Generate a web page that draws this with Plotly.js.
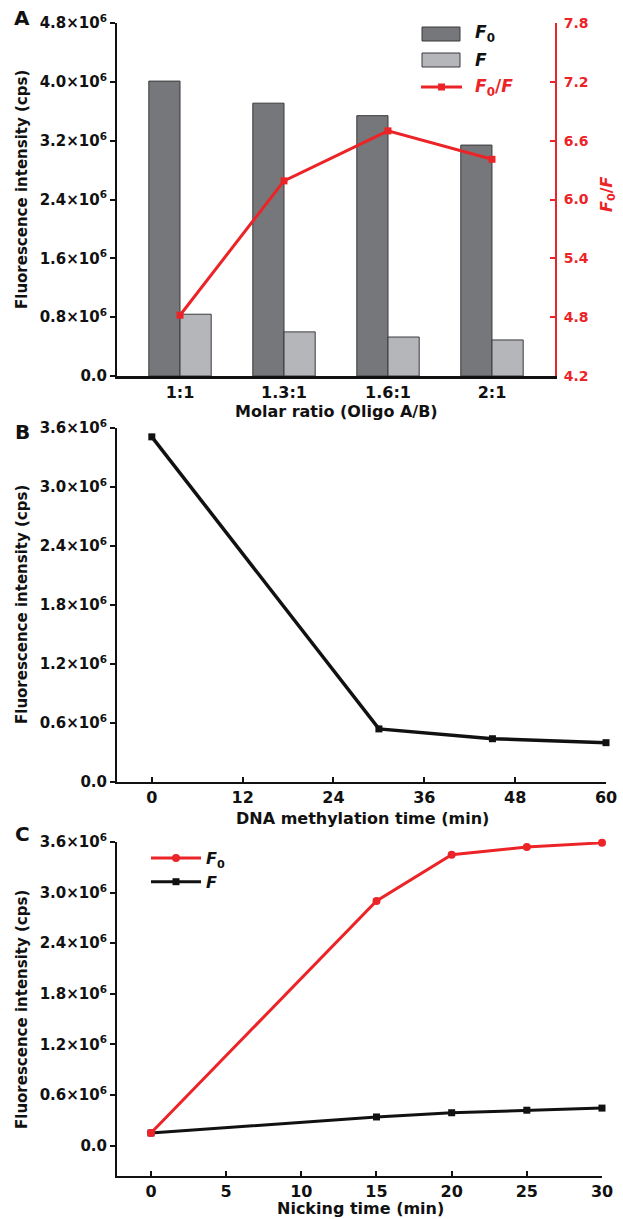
<!DOCTYPE html>
<html>
<head>
<meta charset="utf-8">
<script src="https://cdn.plot.ly/plotly-3.0.1.min.js"></script>
<style>html,body{margin:0;padding:0;background:#fff;}#chart{width:623px;height:1219px;}</style>
</head>
<body>
<div id="chart"></div>
<script>
// ---- data ----
const ratios = ['1:1', '1.3:1', '1.6:1', '2:1'];
const f0A = [4.01e6, 3.71e6, 3.54e6, 3.14e6];
const fA = [0.84e6, 0.60e6, 0.53e6, 0.49e6];
const ratioA = [4.82, 6.19, 6.70, 6.41];

const timeB = [0, 30, 45, 60];
const fB = [3.51e6, 0.54e6, 0.44e6, 0.40e6];

const timeC = [0, 15, 20, 25, 30];
const f0C = [0.15e6, 2.90e6, 3.45e6, 3.54e6, 3.59e6];
const fC = [0.15e6, 0.34e6, 0.39e6, 0.42e6, 0.445e6];

const yTicksA = [0, 0.8e6, 1.6e6, 2.4e6, 3.2e6, 4.0e6, 4.8e6];
const yTextA = ['0.0', '0.8×10<sup>6</sup>', '1.6×10<sup>6</sup>', '2.4×10<sup>6</sup>', '3.2×10<sup>6</sup>', '4.0×10<sup>6</sup>', '4.8×10<sup>6</sup>'];
const y2TicksA = [4.2, 4.8, 5.4, 6.0, 6.6, 7.2, 7.8];
const y2TextA = ['4.2', '4.8', '5.4', '6.0', '6.6', '7.2', '7.8'];
const yTicksBC = [0, 0.6e6, 1.2e6, 1.8e6, 2.4e6, 3.0e6, 3.6e6];
const yTextBC = ['0.0', '0.6×10<sup>6</sup>', '1.2×10<sup>6</sup>', '1.8×10<sup>6</sup>', '2.4×10<sup>6</sup>', '3.0×10<sup>6</sup>', '3.6×10<sup>6</sup>'];
const xTicksB = [0, 12, 24, 36, 48, 60];
const xTicksC = [0, 5, 10, 15, 20, 25, 30];

// ---- styling ----
const W = 623, H = 1219;
const RED = '#ec2327';
const DARK = '#76777b', LIGHT = '#b4b6ba', EDGE = '#3b3b3d';
const FONT = 'DejaVu Sans, Liberation Sans, Arial, sans-serif';
const tickFont = {family: FONT, size: 15, color: '#111', weight: 'bold'};
const xTickFont = {family: FONT, size: 16, color: '#111', weight: 'bold'};
const px = v => v / W;
const py = v => 1 - v / H;

const traces = [
  {type: 'bar', x: ratios, y: f0A, name: 'F0', xaxis: 'x', yaxis: 'y', showlegend: false,
   marker: {color: DARK, line: {color: EDGE, width: 1}}},
  {type: 'bar', x: ratios, y: fA, name: 'F', xaxis: 'x', yaxis: 'y', showlegend: false,
   marker: {color: LIGHT, line: {color: EDGE, width: 1}}},
  {type: 'scatter', mode: 'lines+markers', x: ratios, y: ratioA, name: 'F0/F', showlegend: false,
   xaxis: 'x', yaxis: 'y2', line: {color: RED, width: 3}, marker: {symbol: 'square', size: 7, color: RED}, cliponaxis: false},
  {type: 'scatter', mode: 'lines+markers', x: timeB, y: fB, xaxis: 'x3', yaxis: 'y3', showlegend: false,
   line: {color: '#111', width: 3.5}, marker: {symbol: 'square', size: 7, color: '#111'}, cliponaxis: false},
  {type: 'scatter', mode: 'lines+markers', x: timeC, y: fC, name: '<b><i>F</i></b>', xaxis: 'x4', yaxis: 'y4',
   line: {color: '#111', width: 3}, marker: {symbol: 'square', size: 7, color: '#111'}, cliponaxis: false, legend: 'legend'},
  {type: 'scatter', mode: 'lines+markers', x: timeC, y: f0C, name: '<b><i>F</i><sub>0</sub></b>', xaxis: 'x4', yaxis: 'y4',
   line: {color: RED, width: 3}, marker: {symbol: 'circle', size: 8, color: RED}, cliponaxis: false, legend: 'legend'}
];

const axBase = {showline: true, linecolor: '#111', linewidth: 2, zeroline: false, showgrid: false,
  ticks: 'outside', ticklen: 5, tickwidth: 2, tickcolor: '#111', tickfont: tickFont, fixedrange: true};

const ann = (text, x, y, size, extra) => Object.assign({text: text, x: px(x), y: py(y), xref: 'paper', yref: 'paper',
  showarrow: false, xanchor: 'center', yanchor: 'middle', font: {size: size, family: FONT, color: '#111'}}, extra || {});

// manual legend for panel A (swatches in paper space)
const legShapes = [
  {type: 'rect', xref: 'paper', yref: 'paper', x0: px(422), x1: px(460), y0: py(41), y1: py(27), fillcolor: DARK, line: {color: EDGE, width: 1}},
  {type: 'rect', xref: 'paper', yref: 'paper', x0: px(422), x1: px(460), y0: py(67), y1: py(53), fillcolor: LIGHT, line: {color: EDGE, width: 1}},
  {type: 'line', xref: 'paper', yref: 'paper', x0: px(421), x1: px(462), y0: py(87), y1: py(87), line: {color: RED, width: 3}},
  {type: 'rect', xref: 'paper', yref: 'paper', x0: px(438), x1: px(445), y0: py(90.5), y1: py(83.5), fillcolor: RED, line: {color: RED, width: 0}}
];

const layout = {
  width: W, height: H,
  margin: {l: 0, r: 0, t: 0, b: 0},
  paper_bgcolor: '#fff', plot_bgcolor: 'rgba(0,0,0,0)',
  barmode: 'group', bargap: 0.4, bargroupgap: 0,
  font: {family: FONT, color: '#111'},
  xaxis: Object.assign({}, axBase, {domain: [px(117), px(555)], anchor: 'y', type: 'category',
    range: [-0.606, 3.606], ticks: '', linewidth: 2.5, tickfont: xTickFont}),
  yaxis: Object.assign({}, axBase, {domain: [py(376), py(23)], anchor: 'x', range: [0, 4.8e6],
    tickmode: 'array', tickvals: yTicksA, ticktext: yTextA}),
  yaxis2: Object.assign({}, axBase, {overlaying: 'y', side: 'right', anchor: 'x', range: [4.2, 7.8],
    tickmode: 'array', tickvals: y2TicksA, ticktext: y2TextA, linecolor: RED, tickcolor: RED, ticks: 'inside',
    ticklabelstandoff: 4, tickfont: Object.assign({}, tickFont, {color: RED, size: 14})}),
  xaxis3: Object.assign({}, axBase, {domain: [px(117), px(606)], anchor: 'y3', range: [-4.6, 60],
    tickmode: 'array', tickvals: xTicksB, ticks: 'inside', tickfont: xTickFont}),
  yaxis3: Object.assign({}, axBase, {domain: [py(782), py(428)], anchor: 'x3', range: [0, 3.6e6],
    tickmode: 'array', tickvals: yTicksBC, ticktext: yTextBC}),
  xaxis4: Object.assign({}, axBase, {domain: [px(117), px(602)], anchor: 'y4', range: [-2.26, 30],
    tickmode: 'array', tickvals: xTicksC, ticks: 'inside', tickfont: xTickFont}),
  yaxis4: Object.assign({}, axBase, {domain: [py(1176), py(842)], anchor: 'x4', range: [-0.36e6, 3.6e6],
    tickmode: 'array', tickvals: yTicksBC, ticktext: yTextBC}),
  legend: {x: px(146), y: py(841), xanchor: 'left', yanchor: 'top', bgcolor: 'rgba(0,0,0,0)',
    font: {family: FONT, size: 16, color: '#111'}, itemwidth: 50, traceorder: 'reversed'},
  shapes: legShapes,
  annotations: [
    ann('<b>A</b>', 22, 18, 20),
    ann('<b>B</b>', 22, 432, 20),
    ann('<b>C</b>', 22, 834, 20),
    ann('<b>Fluorescence intensity (cps)</b>', 22, 190, 15, {textangle: -90}),
    ann('<b>Fluorescence intensity (cps)</b>', 22, 605, 15, {textangle: -90}),
    ann('<b>Fluorescence intensity (cps)</b>', 22, 1010, 15, {textangle: -90}),
    ann('<b><i>F</i><sub>0</sub>/<i>F</i></b>', 607, 194, 16, {textangle: -90, font: {size: 16, family: FONT, color: RED}}),
    ann('<b><i>F</i><sub>0</sub></b>', 473, 34, 17, {xanchor: 'left'}),
    ann('<b><i>F</i></b>', 473, 60, 17, {xanchor: 'left'}),
    ann('<b><i>F</i><sub>0</sub>/<i>F</i></b>', 473, 87, 17, {xanchor: 'left', font: {size: 17, family: FONT, color: RED}}),
    ann('<b>Molar ratio (Oligo A/B)</b>', 336, 411, 16),
    ann('<b>DNA methylation time (min)</b>', 362, 818, 16),
    ann('<b>Nicking time (min)</b>', 360, 1208, 16)
  ]
};

Plotly.newPlot('chart', traces, layout, {staticPlot: true, displayModeBar: false});
</script>
</body>
</html>
